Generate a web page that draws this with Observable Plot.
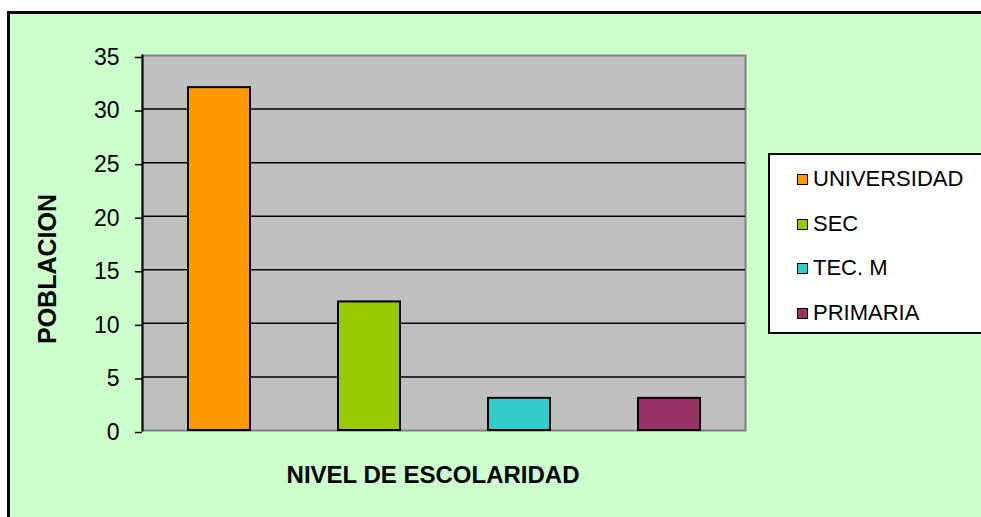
<!DOCTYPE html>
<html>
<head>
<meta charset="utf-8">
<script src="https://cdn.jsdelivr.net/npm/d3@7"></script>
<script src="https://cdn.jsdelivr.net/npm/@observablehq/plot@0.6"></script>
<style>
  html, body { margin: 0; padding: 0; background: #ffffff; width: 981px; height: 517px; overflow: hidden; }
  #bg { position: absolute; left: 7px; top: 11px; width: 1000px; height: 600px; background: #CCFFCC; border: 3px solid #000; }
  #chart { position: absolute; left: 0; top: 0; }
  #legend { position: absolute; left: 768px; top: 153px; width: 220px; height: 177px; background: #fff; border: 2px solid #000;
            font-family: "Liberation Sans", Arial, sans-serif; font-size: 22px; color: #000; }
  .item { position: absolute; left: 27px; height: 24px; line-height: 24px; white-space: nowrap; }
  .sw { display: inline-block; width: 9px; height: 9px; border: 1.5px solid #000; margin-right: 5px; vertical-align: 1px; }
</style>
</head>
<body>
<div id="bg"></div>
<div id="chart"></div>
<div id="legend"></div>
<script>
const categories = ["UNIVERSIDAD", "SEC", "TEC. M", "PRIMARIA"];
const values = [32, 12, 3, 3];
const colors = ["#FF9900", "#99CC00", "#33CCCC", "#993366"];
const yTicks = [0, 5, 10, 15, 20, 25, 30, 35];
const yTitle = "POBLACION";
const xTitle = "NIVEL DE ESCOLARIDAD";

const data = categories.map((c, i) => ({cat: c, value: values[i]}));
const font = '"Liberation Sans", Arial, sans-serif';

const chart = Plot.plot({
  width: 981,
  height: 517,
  marginLeft: 142,
  marginRight: 236,
  marginTop: 55,
  marginBottom: 87,
  style: {background: "transparent", fontFamily: font, color: "#000"},
  x: {domain: categories, paddingInner: 0.59, paddingOuter: 0.295, axis: null},
  y: {domain: [0, 35], ticks: yTicks},
  color: {domain: categories, range: colors},
  marks: [
    Plot.frame({fill: "#C0C0C0", stroke: "#808080", strokeWidth: 2}),
    Plot.gridY(yTicks.filter(t => t > 0 && t < 35), {stroke: "#000", strokeOpacity: 1, strokeWidth: 1.5}),
    Plot.frame({anchor: "left", stroke: "#000", strokeWidth: 2}),
    Plot.barY(data, {x: "cat", y: "value", fill: "cat", stroke: "#000", strokeWidth: 2}),
    Plot.axisY({ticks: yTicks, tickSize: 7, tickPadding: 16, fontSize: 23, stroke: "#000", strokeWidth: 1.5, dy: 2, label: null}),
    Plot.text([yTitle], {text: d => d, frameAnchor: "left", dx: -95, dy: 26, rotate: -90, fontSize: 25, fontWeight: "bold", textAnchor: "middle", lineAnchor: "middle", fill: "#000"}),
    Plot.text([xTitle], {text: d => d, frameAnchor: "bottom", dx: -11, dy: 45, fontSize: 24, fontWeight: "bold", textAnchor: "middle", lineAnchor: "middle", fill: "#000"})
  ]
});
document.getElementById("chart").appendChild(chart);

const legend = document.getElementById("legend");
categories.forEach((c, i) => {
  const item = document.createElement("div");
  item.className = "item";
  item.style.top = (12 + i * 44.7) + "px";
  const sw = document.createElement("span");
  sw.className = "sw";
  sw.style.background = colors[i];
  item.appendChild(sw);
  item.appendChild(document.createTextNode(c));
  legend.appendChild(item);
});
</script>
</body>
</html>
